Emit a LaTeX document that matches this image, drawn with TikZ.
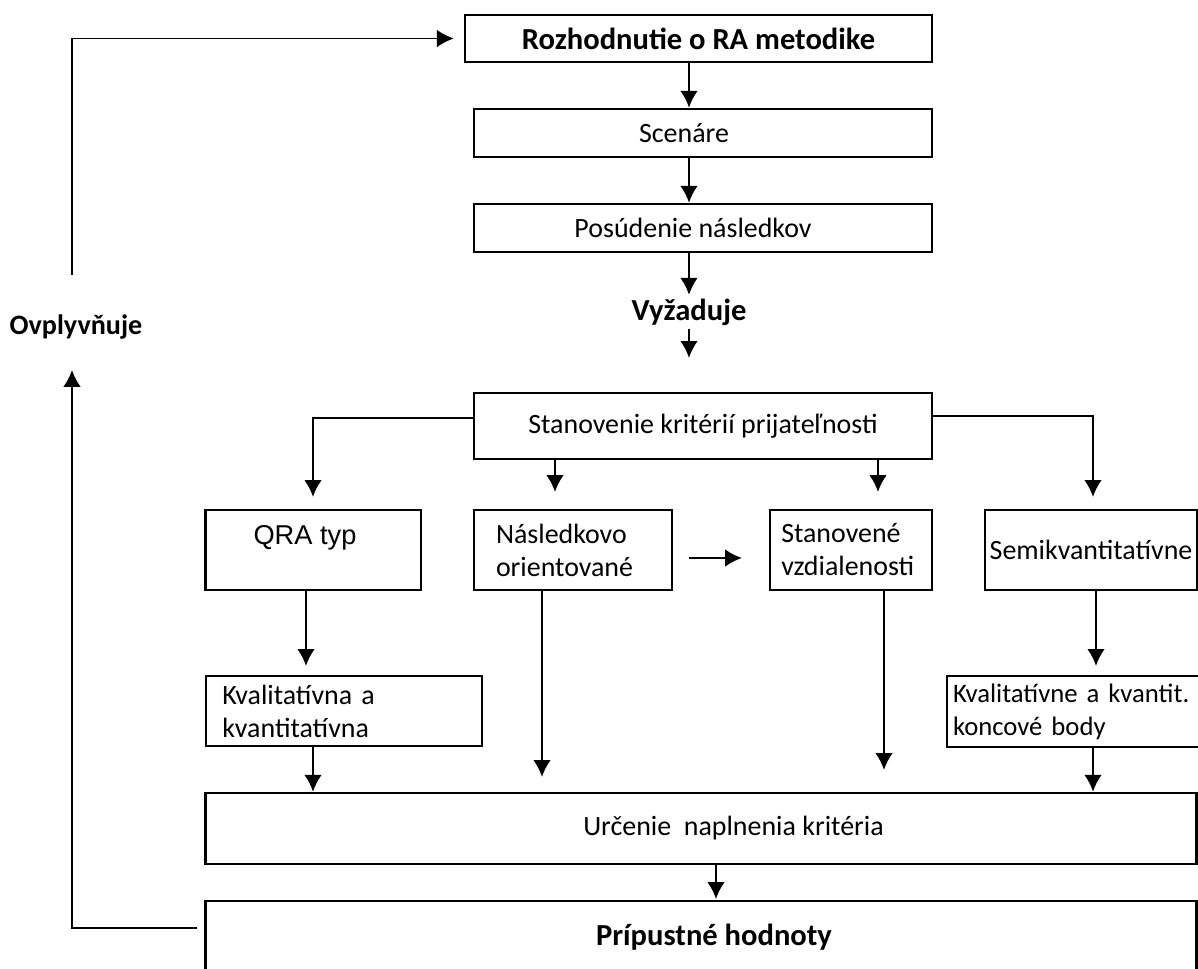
\documentclass[tikz,border=0pt]{standalone}
\usepackage{fontspec}
\setmainfont{Carlito}
\newfontfamily\qrafont{Liberation Sans}
\usepackage{tikz}
\usetikzlibrary{arrows.meta}
\usetikzlibrary{positioning}
\hyphenpenalty=10000
\exhyphenpenalty=10000

\begin{document}
\begin{tikzpicture}[x=0.02cm,y=-0.02cm,>={Latex[length=9.6pt,width=10pt]}]
\tikzstyle{box} = [rectangle, draw, line width=1.4pt, inner sep=0pt,
font=\fontsize{15.9}{18.8}\selectfont]
\tikzstyle{leftbox} = [box, align=left]
\tikzstyle{title} = [font=\fontsize{17.4}{20}\selectfont\bfseries, inner sep=2pt]
\tikzstyle{line} = [draw, line width=1.3pt, ->]
\tikzstyle{backline} = [draw, line width=1.1pt, ->]

\clip (0,0) rectangle (1198,969);

% main column
\node [box, title, minimum width=9.34cm, minimum height=0.94cm] (rozhod) at (698.5,38.5) {Rozhodnutie o RA metodike};
\node [box, minimum width=9.16cm, minimum height=0.96cm] (scen) at (703,133) {Scenáre\hspace*{0.76cm}};
\node [box, minimum width=9.16cm, minimum height=0.96cm] (posud) at (703,228) {Posúdenie následkov\hspace*{0.4cm}};
\node [title] (vyzad) at (689,312) {Vyžaduje};
\node [box, minimum width=9.16cm, minimum height=1.32cm] (stanov) at (703,426) {Stanovenie kritérií prijateľnosti};

% criteria types
\node [box, minimum width=4.31cm, minimum height=1.6cm] (qra) at (313,550) {};
\node [font=\qrafont\fontsize{15.5}{18}\selectfont] (qratext) at (305,538) {QRA typ};
\node [leftbox, text width=3.08cm, inner xsep=0.44cm, minimum height=1.6cm] (nasl) at (573,550) {Následkovo\\orientované};
\node [leftbox, text width=2.79cm, inner xsep=0.23cm, minimum height=1.6cm] (stanve) at (851,550) {Stanovené\\vzdialenosti};
\node [box, minimum width=4.24cm, minimum height=1.6cm] (semi) at (1091,550) {Semikvantitatívne};

% end points
\node [leftbox, text width=4.87cm, inner xsep=0.33cm, minimum height=1.4cm] (kval) at (344,711) {Kvalitatívna a\\kvantitatívna};
\node [leftbox, text width=4.8cm, inner xsep=0.12cm, minimum height=1.42cm,
font=\fontsize{15.2}{18.8}\selectfont] (kvalt) at (1073,711.5) {\mbox{Kvalitatívne a kvantit.}\\koncové body};

% bottom
\node [box, minimum width=19.83cm, minimum height=1.42cm] (urc) at (701,828.5) {\hspace*{1.3cm}Určenie\ \ naplnenia kritéria};
\node [box, title, minimum width=19.83cm, minimum height=1.44cm] (prip) at (701,937) {\hspace*{0.52cm}Prípustné hodnoty};
\node [title, font=\fontsize{16}{19}\selectfont\bfseries] (ovpl) at (76,327) {Ovplyvňuje};

% free arrow ends
\coordinate (vyzend) at (689,358);
\coordinate (tq) at (313,497);
\coordinate (t1) at (555,492);
\coordinate (t2) at (878,492);
\coordinate (ts) at (1093,497);
\coordinate (h1) at (689,558);
\coordinate (h2) at (742,558);
\coordinate (tk) at (306,666);
\coordinate (tn) at (542,777);
\coordinate (ty) at (884,770);
\coordinate (tse) at (1096,666);
\coordinate (tp) at (716,899);
\coordinate (fb0) at (197,928);
\coordinate (fb1) at (72,370);
\coordinate (fb2) at (72,275);

\draw[line] (rozhod.south -| vyzad) -- (scen.north -| vyzad);
\draw[line] (scen.south -| vyzad) -- (posud.north -| vyzad);
\draw[line] (posud.south -| vyzad) -- (vyzad.north);
\draw[line] (vyzad.south) -- (vyzend);
\draw[line] ([yshift=0.16cm]stanov.west) -| (tq);
\draw[line] (stanov.south -| t1) -- (t1);
\draw[line] (stanov.south -| t2) -- (t2);
\draw[line] ([yshift=0.2cm]stanov.east) -| (ts);
\draw[line] (h1) -- (h2);
\draw[line] (qra.south -| tk) -- (tk);
\draw[line] (nasl.south -| tn) -- (tn);
\draw[line] (stanve.south -| ty) -- (ty);
\draw[line] (semi.south -| tse) -- (tse);
\draw[line] (kval.south -| tq) -- (urc.north -| tq);
\draw[line] (kvalt.south -| ts) -- (urc.north -| ts);
\draw[line] (urc.south -| tp) -- (tp);
\draw[backline] (fb0) -| (fb1);
\draw[backline] (fb2) |- ([xshift=-0.2cm]rozhod.west);
\end{tikzpicture}
\end{document}
